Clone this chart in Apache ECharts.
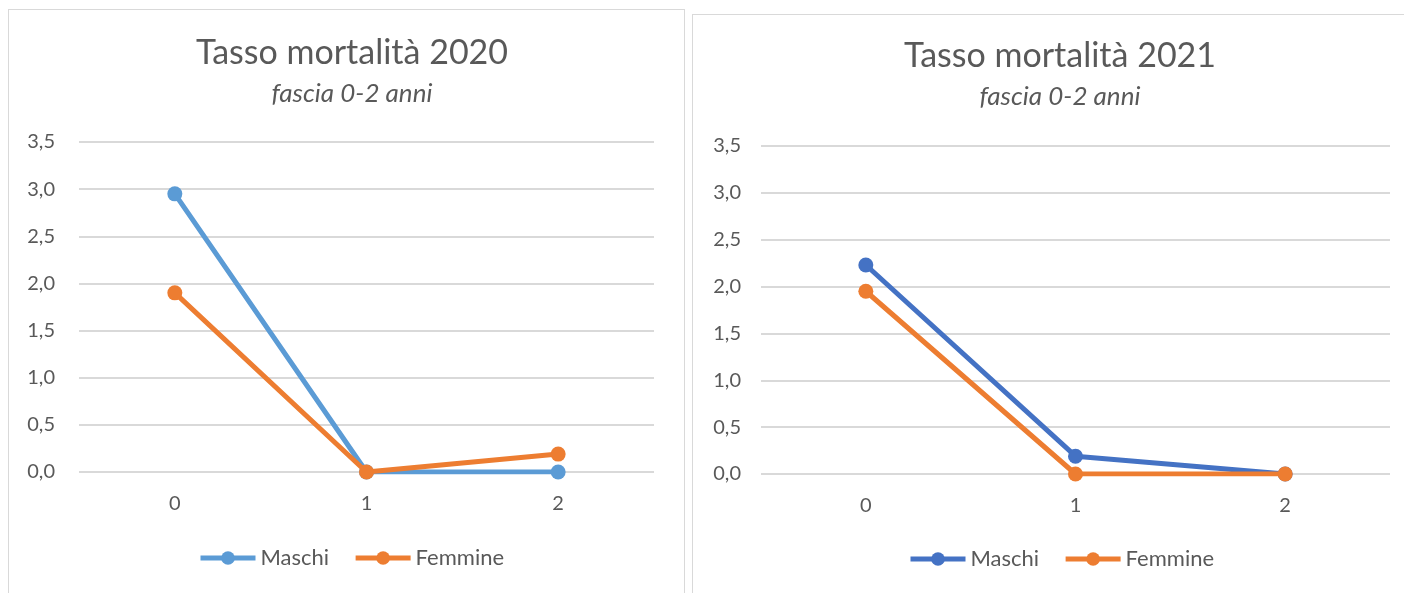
<!DOCTYPE html>
<html>
<head>
<meta charset="utf-8">
<script src="https://cdn.jsdelivr.net/npm/echarts@6/dist/echarts.min.js"></script>
<style>
  html, body { margin: 0; padding: 0; background: #fff; }
  body { width: 1404px; height: 593px; position: relative; overflow: hidden; }
  .frame { position: absolute; border: 1px solid #d9d9d9; box-sizing: border-box; }
  #frameLeft { left: 8px; top: 9px; width: 677px; height: 600px; }
  #frameRight { left: 692px; top: 14px; width: 730px; height: 600px; }
  #chartLeft { position: absolute; left: 0; top: 0; width: 688px; height: 593px; }
  #chartRight { position: absolute; left: 688px; top: 0; width: 716px; height: 593px; }
</style>
</head>
<body>
<div class="frame" id="frameLeft"></div>
<div class="frame" id="frameRight"></div>
<div id="chartLeft"></div>
<div id="chartRight"></div>
<script>
// dati
const ages = ['0', '1', '2'];
const maschi2020 = [2.95, 0, 0];
const femmine2020 = [1.90, 0, 0.19];
const maschi2021 = [2.23, 0.19, 0];
const femmine2021 = [1.95, 0, 0];
const yTicks = [0, 0.5, 1, 1.5, 2, 2.5, 3, 3.5];

const FONT = 'Lato';
const TXT = '#595959';

function buildOption(cfg) {
    return {
        animation: false,
        textStyle: { fontFamily: FONT },
        title: {
            text: cfg.title,
            subtext: 'fascia 0-2 anni',
            left: cfg.titleX,
            textAlign: 'center',
            top: cfg.titleTop,
            itemGap: 11,
            textStyle: { fontFamily: FONT, fontSize: 34, fontWeight: 'normal', color: TXT },
            subtextStyle: { fontFamily: FONT, fontSize: 26, fontStyle: 'italic', color: TXT }
        },
        legend: {
            left: cfg.legendX,
            bottom: cfg.legendBottom,
            itemWidth: 55,
            itemHeight: 17,
            itemGap: 24,
            lineStyle: { width: 5 },
            textStyle: { fontFamily: FONT, fontSize: 22, color: TXT },
            data: ['Maschi', 'Femmine']
        },
        grid: cfg.grid,
        xAxis: {
            type: 'category',
            data: ages,
            axisLine: { show: false },
            axisTick: { show: false },
            axisLabel: { color: TXT, fontSize: 20, margin: 22, fontFamily: FONT }
        },
        yAxis: {
            type: 'value',
            min: 0,
            max: yTicks[yTicks.length - 1],
            interval: 0.5,
            axisLine: { show: false },
            axisTick: { show: false },
            splitLine: { lineStyle: { color: '#d9d9d9', width: 2 } },
            axisLabel: {
                color: TXT, fontSize: 20, margin: cfg.yMargin, fontFamily: FONT,
                formatter: function (v) { return v.toFixed(1).replace('.', ','); }
            }
        },
        series: [
            {
                name: 'Maschi',
                type: 'line',
                data: cfg.maschi,
                symbol: 'circle',
                symbolSize: 15,
                z: 3,
                itemStyle: { color: cfg.blue },
                lineStyle: { color: cfg.blue, width: 5 }
            },
            {
                name: 'Femmine',
                type: 'line',
                data: cfg.femmine,
                symbol: 'circle',
                symbolSize: 15,
                z: 4,
                itemStyle: { color: '#ed7d31' },
                lineStyle: { color: '#ed7d31', width: 5 }
            }
        ]
    };
}

const left = echarts.init(document.getElementById('chartLeft'));
left.setOption(buildOption({
    title: 'Tasso mortalità 2020',
    titleX: 347,
    titleTop: 31,
    legendX: 193,
    legendBottom: 19,
    grid: { left: 79, right: 34, top: 142, bottom: 121 },
    yMargin: 24,
    blue: '#5b9bd5',
    maschi: maschi2020,
    femmine: femmine2020
}));

const right = echarts.init(document.getElementById('chartRight'));
right.setOption(buildOption({
    title: 'Tasso mortalità 2021',
    titleX: 367,
    titleTop: 34,
    legendX: 215,
    legendBottom: 18,
    grid: { left: 73, right: 14, top: 146, bottom: 119 },
    yMargin: 20,
    blue: '#4472c4',
    maschi: maschi2021,
    femmine: femmine2021
}));
</script>
</body>
</html>
